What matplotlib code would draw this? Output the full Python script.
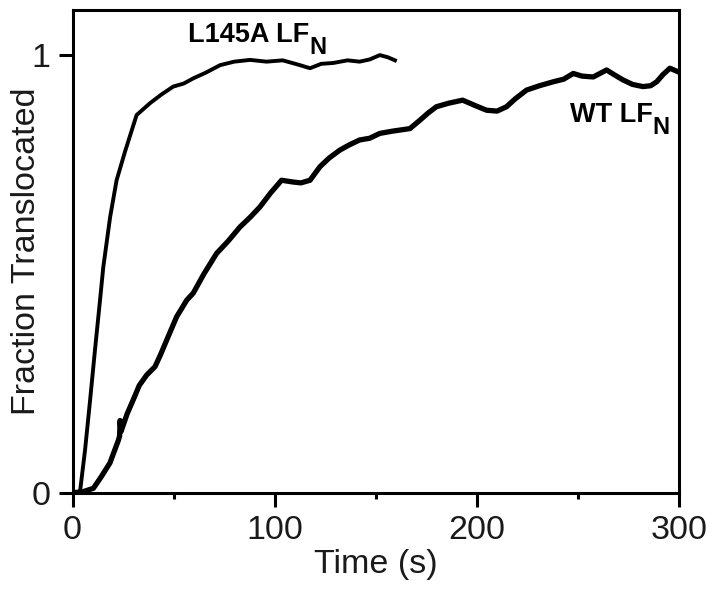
import matplotlib
matplotlib.use("Agg")
import matplotlib.pyplot as plt
from matplotlib.ticker import MultipleLocator

plt.rcParams['font.family'] = ['Liberation Sans', 'DejaVu Sans']

# L145A LFN trace
t_mut = [0, 3.7, 6.2, 8.7, 11.1, 13.6, 15.2, 18.6, 21.8, 26, 31.7, 38.3, 44, 49.8,
         55, 59.8, 66, 73, 80, 87.8, 96, 104, 112.5, 117.5, 123, 129, 136, 142,
         147, 152, 156, 159.5]
f_mut = [0, 0.002, 0.098, 0.212, 0.326, 0.44, 0.515, 0.63, 0.714, 0.78, 0.863, 0.89,
         0.91, 0.928, 0.935, 0.947, 0.96, 0.977, 0.985, 0.989, 0.985, 0.988, 0.977,
         0.97, 0.98, 0.982, 0.988, 0.985, 0.99, 1.0, 0.995, 0.988]

# WT LFN trace
t_wt = [0, 5, 10.3, 14, 18.5, 22.7, 23.3, 23.5, 24, 27, 30, 33, 36.7, 40.8, 43.5, 46.6,
        51.5, 56.5, 59.7, 65, 71.3, 77, 82.8, 88, 92.7, 98, 103.4, 109, 113, 117.5,
        122.4, 127, 132.3, 137, 142, 147, 152, 158, 166.9, 171.8, 176, 180, 186, 193,
        199, 204.8, 210, 214.7, 219, 224.6, 231, 237.8, 243, 247.7, 252, 257.6,
        264.2, 268, 272.4, 277, 282.2, 286, 289, 292, 295.5, 299.5]
f_wt = [0, 0.002, 0.01, 0.035, 0.068, 0.12, 0.13, 0.165, 0.14, 0.18, 0.212, 0.245,
        0.269, 0.288, 0.315, 0.349, 0.402, 0.44, 0.456, 0.5, 0.547, 0.575, 0.607,
        0.63, 0.653, 0.685, 0.714, 0.71, 0.708, 0.714, 0.745, 0.765, 0.783, 0.795,
        0.806, 0.81, 0.821, 0.826, 0.832, 0.851, 0.868, 0.882, 0.89, 0.897, 0.885,
        0.874, 0.872, 0.882, 0.9, 0.92, 0.93, 0.939, 0.945, 0.958, 0.952, 0.95,
        0.966, 0.955, 0.943, 0.933, 0.928, 0.93, 0.939, 0.955, 0.97, 0.962]

fig = plt.figure(figsize=(7.21, 5.89), dpi=100)
ax = fig.add_axes([0.1006, 0.1635, 0.8411, 0.8195])

ax.plot(t_mut, f_mut, color='black', lw=2.8, solid_joinstyle='round')
ax.plot(t_wt, f_wt, color='black', lw=3.8, solid_joinstyle='round')

ax.set_xlim(0, 300)
ax.set_ylim(0, 1.103)
ax.set_xticks([0, 100, 200, 300])
ax.xaxis.set_minor_locator(MultipleLocator(50))
ax.set_yticks([0, 1])
ax.set_yticklabels(['0', '1'])

for s in ax.spines.values():
    s.set_linewidth(2.2)
ax.tick_params(which='major', direction='out', length=10, width=2.2,
               labelsize=24.5, pad=6, colors='black', labelcolor='#1a1a1a')
ax.tick_params(which='minor', direction='out', length=4, width=2.2)

ax.set_xlabel('Time (s)', fontsize=24.5, color='#1a1a1a', labelpad=2)
ax.set_ylabel('Fraction Translocated', fontsize=24.5, color='#1a1a1a')
ax.yaxis.set_label_coords(-0.05, 0.5)

# curve labels with a large subscript N
lab1 = ax.text(57, 1.03, 'L145A LF', fontsize=19.5, fontweight='bold',
               ha='left', va='baseline')
ax.annotate('N', xy=(1, 0), xycoords=lab1, xytext=(0, -8), textcoords='offset points',
            fontsize=17, fontweight='bold', ha='left', va='bottom')
lab2 = ax.text(246, 0.848, 'WT LF', fontsize=19.5, fontweight='bold',
               ha='left', va='baseline')
ax.annotate('N', xy=(1, 0), xycoords=lab2, xytext=(0, -8), textcoords='offset points',
            fontsize=17, fontweight='bold', ha='left', va='bottom')

fig.savefig('out.png', dpi=100)
